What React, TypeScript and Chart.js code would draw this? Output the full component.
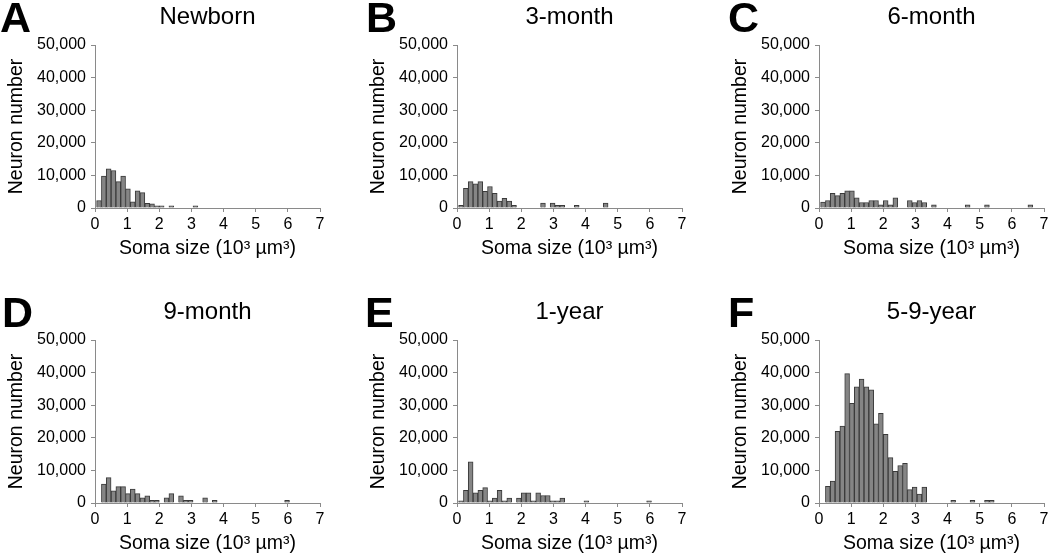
import React, { useEffect, useRef } from "react";
import { Chart, registerables } from "chart.js";

Chart.register(...registerables);

// Bin centres (bins are 0.15 wide, starting at 0.05), in 10^3 µm^3
const BIN_CENTERS = [
  0.125, 0.275, 0.425, 0.575, 0.725, 0.875, 1.025, 1.175, 1.325, 1.475,
  1.625, 1.775, 1.925, 2.075, 2.225, 2.375, 2.525, 2.675, 2.825, 2.975,
  3.125, 3.275, 3.425, 3.575, 3.725, 3.875, 4.025, 4.175, 4.325, 4.475,
  4.625, 4.775, 4.925, 5.075, 5.225, 5.375, 5.525, 5.675, 5.825, 5.975,
  6.125, 6.275, 6.425, 6.575, 6.725, 6.875,
];

const X_TICKS = [0, 1, 2, 3, 4, 5, 6, 7];
const Y_TICKS = [0, 10000, 20000, 30000, 40000, 50000];

const NEWBORN = [2300, 9800, 12000, 11500, 8100, 9800, 5900, 1900, 5300, 4700, 1400, 1300, 700, 700, 0, 700, 0, 0, 0, 0, 700];
const MONTH3 = [800, 6000, 8100, 7400, 8100, 5100, 6600, 4500, 2100, 3000, 2100, 800, 0, 0, 0, 0, 0, 1500, 0, 1500, 800, 800, 0, 0, 800, 0, 0, 0, 0, 0, 1500];
const MONTH6 = [1800, 2300, 4500, 3800, 4500, 5300, 5300, 3100, 1700, 1700, 2300, 2300, 1000, 2300, 1000, 3100, 0, 0, 2300, 1700, 2300, 1700, 0, 1000, 0, 0, 0, 0, 0, 0, 1000, 0, 0, 0, 1000, 0, 0, 0, 0, 0, 0, 0, 0, 1000];
const MONTH9 = [0, 5800, 7800, 3700, 5000, 5000, 2900, 4300, 2900, 1600, 2200, 800, 800, 0, 1600, 2900, 0, 2200, 800, 800, 0, 0, 1600, 0, 800, 0, 0, 0, 0, 0, 0, 0, 0, 0, 0, 0, 0, 0, 0, 800];
const YEAR1 = [700, 3900, 12600, 3100, 3900, 4700, 700, 1500, 3900, 700, 1500, 0, 1500, 3100, 3100, 700, 3100, 2300, 2300, 700, 700, 1500, 0, 0, 0, 0, 700, 0, 0, 0, 0, 0, 0, 0, 0, 0, 0, 0, 0, 700];
const YEAR5_9 = [0, 5100, 6700, 22000, 23600, 39700, 30600, 35600, 38000, 35600, 34700, 24300, 27500, 21100, 13900, 9700, 11500, 12200, 4100, 4900, 2700, 4900, 0, 0, 0, 0, 0, 800, 0, 0, 0, 800, 0, 0, 800, 800];

const PANEL_LETTERS = ["A", "B", "C", "D", "E", "F"];
const PANEL_TITLES = ["Newborn", "3-month", "6-month", "9-month", "1-year", "5-9-year"];
const PANEL_SERIES = [NEWBORN, MONTH3, MONTH6, MONTH9, YEAR1, YEAR5_9];
const Y_TITLE = "Neuron number";
const X_TITLE = "Soma size (10³ µm³)";

// layout / style
const FONT = '"Liberation Sans", Arial, Helvetica, sans-serif';
const COL_X = [0, 362, 724];
const ROW_Y = [0, 295];
const CANVAS_W = 340;
const CANVAS_H = 270;
const LETTER_X = [0, 4, 4, 2, 3, 4];
const AXIS_COLOR = "#8a8a8a";

const panelTextPlugin = {
  id: "panelText",
  afterDraw(chart: any, _args: any, opts: any) {
    const { ctx, chartArea } = chart;
    ctx.save();
    ctx.fillStyle = "#000";
    ctx.textBaseline = "alphabetic";
    ctx.textAlign = "left";
    ctx.font = `bold 43px ${FONT}`;
    ctx.fillText(opts.letter, opts.letterX, 32);
    ctx.font = `24px ${FONT}`;
    ctx.textAlign = "center";
    ctx.fillText(opts.title, (chartArea.left + chartArea.right) / 2, 23.5);
    ctx.restore();
  },
};

function makeConfig(i: number): any {
  const values = PANEL_SERIES[i];
  return {
    type: "bar",
    data: {
      datasets: [
        {
          data: values.map((v, k) => ({ x: BIN_CENTERS[k], y: v === 0 ? null : v })),
          backgroundColor: "#858585",
          borderColor: "#3a3a3a",
          borderWidth: 1,
          barPercentage: 1,
          categoryPercentage: 1,
          borderSkipped: "start",
        },
      ],
    },
    options: {
      animation: false,
      responsive: false,
      devicePixelRatio: 1,
      layout: { padding: { top: 45, left: 0, right: 20, bottom: 0 } },
      plugins: {
        legend: { display: false },
        tooltip: { enabled: false },
        panelText: { letter: PANEL_LETTERS[i], title: PANEL_TITLES[i], letterX: LETTER_X[i] },
      },
      scales: {
        x: {
          type: "linear",
          min: 0,
          max: 7,
          offset: false,
          afterBuildTicks: (s: any) => {
            s.ticks = X_TICKS.map((value) => ({ value }));
          },
          afterFit: (s: any) => {
            s.height = CANVAS_H - 208;
          },
          ticks: {
            color: "#000",
            font: { family: FONT, size: 16 },
            padding: 3,
            maxRotation: 0,
            autoSkip: false,
          },
          grid: {
            display: true,
            drawOnChartArea: false,
            drawTicks: true,
            tickLength: 4,
            color: AXIS_COLOR,
            offset: false,
          },
          border: { display: true, color: AXIS_COLOR, width: 1 },
          title: {
            display: true,
            text: X_TITLE,
            color: "#000",
            font: { family: FONT, size: 19.5 },
            padding: { top: 0, bottom: 10 },
          },
        },
        y: {
          type: "linear",
          min: 0,
          max: 50000,
          afterBuildTicks: (s: any) => {
            s.ticks = Y_TICKS.map((value) => ({ value }));
          },
          afterFit: (s: any) => {
            s.width = 95;
          },
          ticks: {
            color: "#000",
            font: { family: FONT, size: 16 },
            padding: 5,
            callback: (v: any) => Number(v).toLocaleString("en-US"),
          },
          grid: {
            display: true,
            drawOnChartArea: false,
            drawTicks: true,
            tickLength: 4,
            color: AXIS_COLOR,
          },
          border: { display: true, color: AXIS_COLOR, width: 1 },
          title: {
            display: true,
            text: Y_TITLE,
            color: "#000",
            font: { family: FONT, size: 19.5 },
            padding: { top: 5, bottom: 0 },
          },
        },
      },
    },
    plugins: [panelTextPlugin],
  };
}

export default function App() {
  const refs = useRef<(HTMLCanvasElement | null)[]>([]);

  useEffect(() => {
    const charts = PANEL_SERIES.map((_, i) => new Chart(refs.current[i] as HTMLCanvasElement, makeConfig(i)));
    return () => charts.forEach((c) => c.destroy());
  }, []);

  return (
    <div
      style={{
        position: "absolute",
        left: 0,
        top: 0,
        width: 1050,
        height: 553,
        overflow: "hidden",
        background: "#fff",
      }}
    >
      {PANEL_SERIES.map((_, i) => (
        <canvas
          key={i}
          ref={(el) => {
            refs.current[i] = el;
          }}
          width={CANVAS_W}
          height={CANVAS_H}
          style={{
            position: "absolute",
            left: COL_X[i % 3],
            top: ROW_Y[Math.floor(i / 3)],
            width: CANVAS_W,
            height: CANVAS_H,
          }}
        />
      ))}
    </div>
  );
}
